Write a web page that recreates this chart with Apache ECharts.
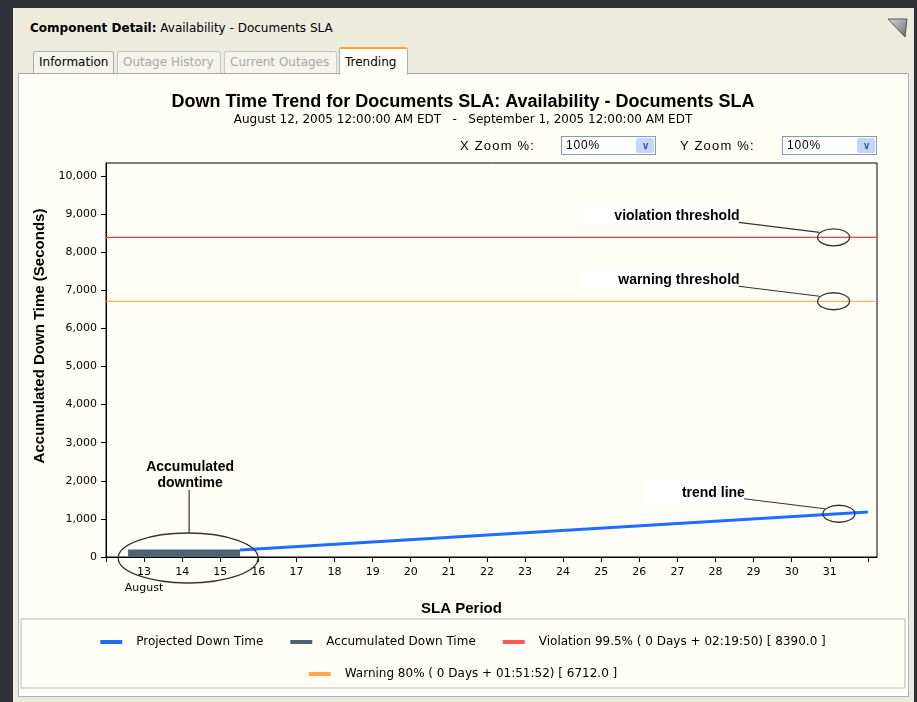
<!DOCTYPE html>
<html>
<head>
<meta charset="utf-8">
<script src="https://cdn.jsdelivr.net/npm/echarts@6/dist/echarts.min.js"></script>
<style>
  body { margin: 0; width: 917px; height: 702px; background: #ecebdc; position: relative; overflow: hidden;
         font-family: "DejaVu Sans", sans-serif; font-size: 12px; color: #000; }
  .dark { position: absolute; background: #303038; }
  .head { position: absolute; left: 30px; top: 21px; font-size: 12px; white-space: nowrap; }
  .tab { position: absolute; top: 51px; height: 22px; line-height: 21px; padding: 0 5px; box-sizing: border-box;
         border: 1px solid #a8b0b8; border-bottom: none; border-radius: 3px 3px 0 0; background: #f4f4ec; white-space: nowrap; }
  .tab.off { color: #a8a8a8; border-color: #c4c8cc; }
  .tab.on { top: 47px; height: 28px; line-height: 26px; background: #fffff7; border-top: 2px solid #f0a63a; z-index: 3; }
  .panel { position: absolute; left: 18px; top: 73px; width: 891px; height: 624px; box-sizing: border-box;
           border: 1px solid #9fb6d4; border-top-color: #a8a8a8; background: #fffff7; }
  #chart { position: absolute; left: 20px; top: 76px; width: 886px; height: 618px; }
  .zlab { position: absolute; top: 138px; font-family: "Liberation Sans", sans-serif; font-size: 13px; letter-spacing: 1.2px; z-index: 2; }
  .zbox { position: absolute; top: 136px; width: 95px; height: 19px; box-sizing: border-box; border: 1px solid #7f9db9;
          background: #fff; font-family: "Liberation Sans", sans-serif; font-size: 12px; letter-spacing: 0.8px; line-height: 17px; padding-left: 4px; z-index: 2; }
  .zbtn { position: absolute; right: 1px; top: 1px; width: 18px; height: 15px; background: #c6d6f8; border-radius: 2px;
          color: #3a58a8; font-size: 10px; font-weight: bold; text-align: center; line-height: 15px; letter-spacing: 0; }
</style>
</head>
<body>
<div class="dark" style="left:0;top:0;width:917px;height:8px"></div>
<div class="dark" style="left:0;top:0;width:13px;height:702px"></div>
<div class="dark" style="left:914px;top:0;width:3px;height:702px"></div>
<div class="head"><b>Component Detail:</b> Availability - Documents SLA</div>
<svg style="position:absolute;left:884px;top:14px" width="28" height="28">
  <defs><linearGradient id="g" x1="0" y1="0" x2="1" y2="1"><stop offset="0" stop-color="#d8d8d8"/><stop offset="1" stop-color="#6a6a6a"/></linearGradient></defs>
  <polygon points="4,5 23,5 21,23" fill="url(#g)" stroke="#555" stroke-width="1"/>
</svg>
<div class="panel"></div>
<div class="tab" style="left:33px;width:81px">Information</div>
<div class="tab off" style="left:117px;width:104px">Outage History</div>
<div class="tab off" style="left:224px;width:113px">Current Outages</div>
<div class="tab on" style="left:339px;width:69px">Trending</div>
<div id="chart"></div>
<div class="zlab" style="left:460px">X Zoom %:</div>
<div class="zbox" style="left:561px">100%<div class="zbtn">&#8744;</div></div>
<div class="zlab" style="left:680px">Y Zoom %:</div>
<div class="zbox" style="left:782px">100%<div class="zbtn">&#8744;</div></div>
<script>
// SLA period: days of August (12 = Aug 12 00:00, 32 = Sep 1 00:00)
const periodStart = 12;
const periodEnd = 32.24;
const dayTicks = [13, 14, 15, 16, 17, 18, 19, 20, 21, 22, 23, 24, 25, 26, 27, 28, 29, 30, 31];
const yMax = 10340;

const accumulated = [[12.58, 200], [15.52, 200]];
const projected = [[15.52, 184], [32.0, 1181]];
const violationLevel = 8390;
const warningLevel = 6712;

const seriesNames = [
  "Projected Down Time",
  "Accumulated Down Time",
  "Violation 99.5% ( 0 Days + 02:19:50) [ 8390.0 ]",
  "Warning 80% ( 0 Days + 01:51:52) [ 6712.0 ]",
];

const callouts = [
  { text: "violation threshold", at: [31.1, violationLevel] },
  { text: "warning threshold", at: [31.1, warningLevel] },
  { text: "trend line", at: [31.24, 1135] },
];
const bigCallout = { text: "Accumulated\ndowntime", at: [14.13, 0] };

const labelFont = { fontFamily: "DejaVu Sans", fontSize: 11, color: "#000" };
const legendFont = { fontFamily: "DejaVu Sans", fontSize: 12, color: "#000" };
const boldFont = { fontFamily: "Liberation Sans", fontWeight: "bold", color: "#000" };

const chart = echarts.init(document.getElementById("chart"));

chart.setOption({
  animation: false,
  backgroundColor: "transparent",
  title: {
    text: "Down Time Trend for Documents SLA: Availability - Documents SLA",
    subtext: "August 12, 2005 12:00:00 AM EDT   -   September 1, 2005 12:00:00 AM EDT",
    left: "center", top: 17, padding: 0, itemGap: 3,
    textStyle: { ...boldFont, fontSize: 18 },
    subtextStyle: { fontFamily: "DejaVu Sans", fontSize: 12, color: "#000" },
  },
  grid: {
    left: 86, top: 87, right: 29, bottom: 137,
    show: true, borderColor: "#000", borderWidth: 1, backgroundColor: "transparent",
  },
  xAxis: {
    type: "value", min: periodStart, max: periodEnd, interval: 1,
    name: "SLA Period", nameLocation: "middle", nameGap: 40,
    nameTextStyle: { ...boldFont, fontSize: 15, padding: [0, 60, 0, 0] },
    axisLine: { lineStyle: { color: "#000" } },
    axisTick: { length: 5, lineStyle: { color: "#000" } },
    splitLine: { show: false },
    axisLabel: {
      ...labelFont, margin: 7, lineHeight: 16, showMaxLabel: false, hideOverlap: false,
      formatter: v => {
        if (!dayTicks.includes(v)) return "";
        return v === 13 ? "13\nAugust" : String(v);
      },
    },
  },
  yAxis: {
    type: "value", min: 0, max: yMax, interval: 1000,
    name: "Accumulated Down Time (Seconds)", nameLocation: "middle", nameGap: 58, nameRotate: 90,
    nameTextStyle: { ...boldFont, fontSize: 15, padding: [0, 0, 0, 48] },
    axisLine: { show: true, lineStyle: { color: "#000" } },
    axisTick: { show: true, length: 5, lineStyle: { color: "#000" } },
    splitLine: { show: false },
    axisLabel: {
      ...labelFont, margin: 9, showMaxLabel: false,
      formatter: v => v.toLocaleString("en-US"),
    },
  },
  legend: [
    {
      data: seriesNames.slice(0, 3), left: "center", top: 560, padding: 0,
      icon: "rect", itemWidth: 22, itemHeight: 4, itemGap: 27,
      textStyle: { ...legendFont, padding: [0, 0, 0, 9] },
    },
    {
      data: seriesNames.slice(3), left: "center", top: 592, padding: 0,
      icon: "rect", itemWidth: 22, itemHeight: 4,
      textStyle: { ...legendFont, padding: [0, 0, 0, 9] },
    },
  ],
  series: [
    {
      name: seriesNames[2], type: "line", symbol: "none", silent: true,
      data: [[periodStart, violationLevel], [periodEnd, violationLevel]],
      itemStyle: { color: "#ff5a5a" }, lineStyle: { color: "#ff3c3c", width: 1.2 },
    },
    {
      name: seriesNames[3], type: "line", symbol: "none", silent: true,
      data: [[periodStart, warningLevel], [periodEnd, warningLevel]],
      itemStyle: { color: "#ffa84a" }, lineStyle: { color: "#ff9a2a", width: 1.2 },
    },
    {
      name: seriesNames[1], type: "line", symbol: "none", silent: true,
      data: accumulated,
      itemStyle: { color: "#4d6372" }, lineStyle: { color: "#4d6372", width: 0 },
      areaStyle: { color: "#4d6372", opacity: 1 },
    },
    {
      name: seriesNames[0], type: "line", symbol: "none", silent: true,
      data: projected,
      itemStyle: { color: "#1f6dff" }, lineStyle: { color: "#1f6dff", width: 3 },
    },
  ],
});

// callouts anchored to data coordinates
const px = p => chart.convertToPixel({ gridIndex: 0 }, p);
const graphics = [
  { type: "rect", silent: true, shape: { x: 1, y: 543, width: 884, height: 69 },
    style: { fill: "none", stroke: "#b4b4b4", lineWidth: 1 } },
];
callouts.forEach(c => {
  const [x, y] = px(c.at);
  graphics.push(
    { type: "text", silent: true, z: 10, x: x - 94, y: y - 21,
      style: { text: c.text, align: "right", verticalAlign: "middle", fill: "#000",
               font: "bold 14px 'Liberation Sans'", backgroundColor: "#fff", padding: [6, 0, 6, 36] } },
    { type: "polyline", silent: true, z: 11, shape: { points: [[x - 95, y - 15], [x - 14, y - 5]] },
      style: { stroke: "#333", lineWidth: 1.2, fill: "none" } },
    { type: "ellipse", silent: true, z: 11, shape: { cx: x, cy: y, rx: 16, ry: 8.5 },
      style: { stroke: "#333", lineWidth: 1.3, fill: "none" } },
  );
});
{
  const [x, y] = px(bigCallout.at);
  graphics.push(
    { type: "text", silent: true, z: 10, x: x + 3, y: y - 82,
      style: { text: bigCallout.text, align: "center", verticalAlign: "middle", fill: "#000",
               font: "bold 14px 'Liberation Sans'", lineHeight: 16 } },
    { type: "polyline", silent: true, z: 11, shape: { points: [[x + 2, y - 67], [x + 2, y - 24]] },
      style: { stroke: "#333", lineWidth: 1.2, fill: "none" } },
    { type: "ellipse", silent: true, z: 11, shape: { cx: x + 1, cy: y + 1, rx: 70, ry: 25 },
      style: { stroke: "#333", lineWidth: 1.3, fill: "none" } },
  );
}
chart.setOption({ graphic: graphics });
</script>
</body>
</html>
